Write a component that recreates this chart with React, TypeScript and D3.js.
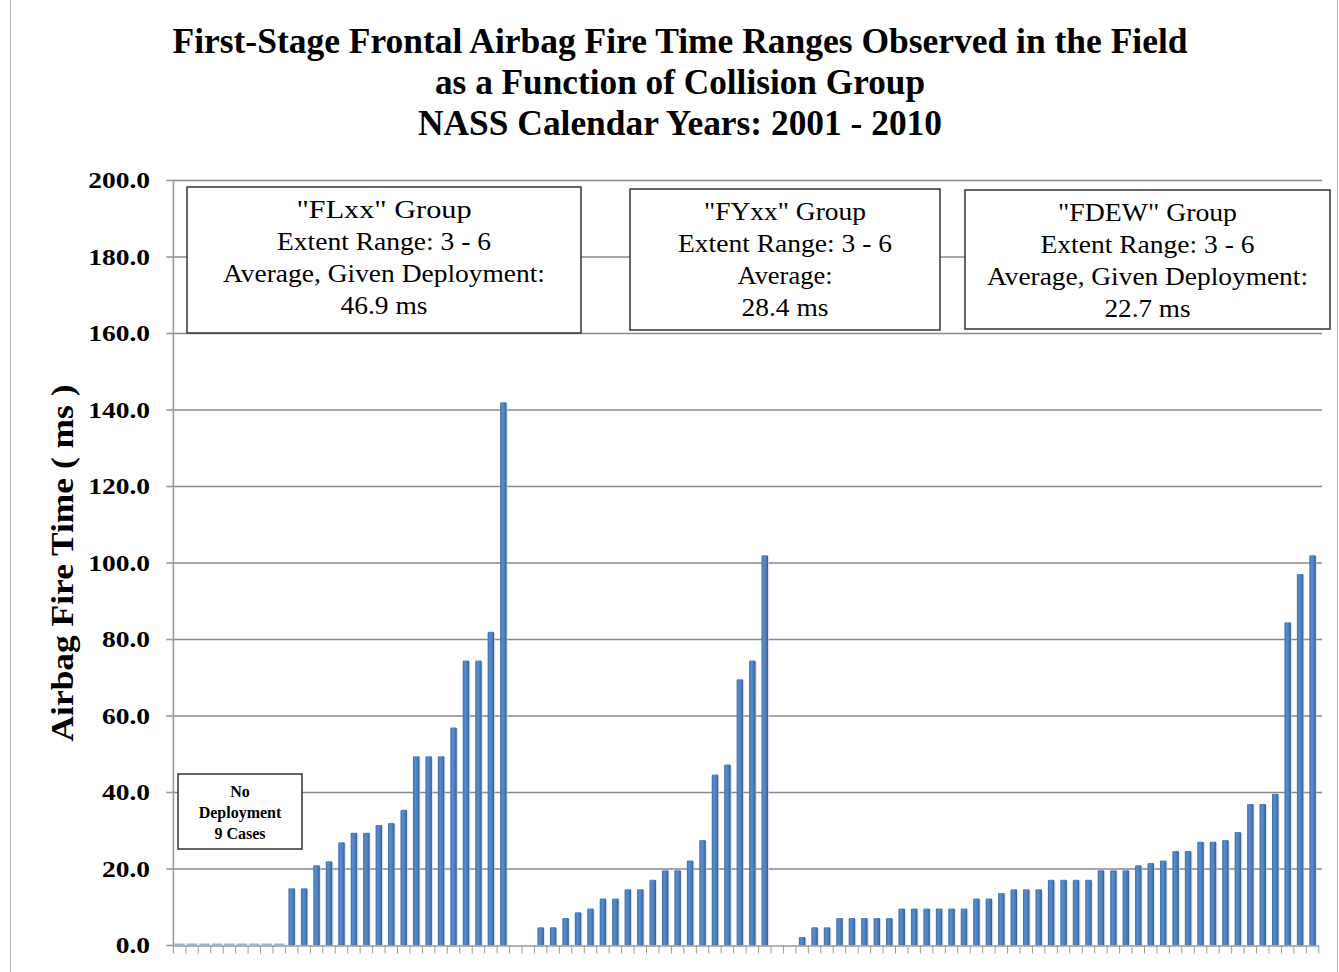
import React from "react";
import * as d3 from "d3";

const titleLines = [
  "First-Stage Frontal Airbag Fire Time Ranges Observed in the Field",
  "as a Function of Collision Group",
  "NASS Calendar Years: 2001 - 2010",
];
const yAxisLabel = "Airbag Fire Time ( ms )";
const yTicks = [0, 20, 40, 60, 80, 100, 120, 140, 160, 180, 200];

// FLxx group: 9 no-deployment cases (0 ms) followed by deployments
const flxxValues = [0, 0, 0, 0, 0, 0, 0, 0, 0, 15, 15, 21, 22, 27, 29.5, 29.5, 31.5, 32, 35.5, 49.5, 49.5, 49.5, 57, 74.5, 74.5, 82, 142];
const fyxxValues = [4.75, 4.75, 7.2, 8.7, 9.7, 12.3, 12.3, 14.7, 14.7, 17.2, 19.7, 19.7, 22.2, 27.6, 44.7, 47.3, 69.6, 74.5, 102];
const fdewValues = [2.2, 4.8, 4.8, 7.2, 7.2, 7.2, 7.2, 7.2, 9.7, 9.7, 9.7, 9.7, 9.7, 9.7, 12.3, 12.3, 13.7, 14.7, 14.7, 14.7, 17.2, 17.2, 17.2, 17.2, 19.7, 19.7, 19.7, 21, 21.6, 22.2, 24.7, 24.7, 27.1, 27.1, 27.6, 29.7, 37, 37, 39.7, 84.5, 97.1, 102];
const gapSize = 2;

const groupBoxes = [
  { lines: ['"FLxx" Group', "Extent Range: 3 - 6", "Average, Given Deployment:", "46.9 ms"] },
  { lines: ['"FYxx" Group', "Extent Range: 3 - 6", "Average:", "28.4 ms"] },
  { lines: ['"FDEW" Group', "Extent Range: 3 - 6", "Average, Given Deployment:", "22.7 ms"] },
];
const noDeployLines = ["No", "Deployment", "9 Cases"];

type Cat = { i: number; v: number | null };
const cats: Cat[] = [];
const pushAll = (arr: number[]) => arr.forEach((v) => cats.push({ i: cats.length, v }));
const pushGap = () => { for (let k = 0; k < gapSize; k++) cats.push({ i: cats.length, v: null }); };
pushAll(flxxValues); pushGap(); pushAll(fyxxValues); pushGap(); pushAll(fdewValues);

export default function App() {
  const W = 1339, H = 972;
  const x0 = 173.4, x1 = 1318.8, yTop = 180.5, yBot = 945.5;
  const x = d3.scaleBand<number>().domain(cats.map((c) => c.i)).range([x0, x1]).padding(0);
  const y = d3.scaleLinear().domain([0, 200]).range([yBot, yTop]);
  const bw = x.bandwidth() * 0.52;
  const serif = "'Liberation Serif', 'Times New Roman', Times, serif";

  const boxGeom = [
    { x: 187, y: 187, w: 394, h: 146, lw: [175, 214, 322, 87] },
    { x: 630, y: 189, w: 310, h: 141, lw: [162, 214, 95, 87] },
    { x: 965, y: 190, w: 365, h: 139, lw: [179, 214, 321, 86] },
  ];
  const titleGeom = [{ y: 53, w: 1015 }, { y: 94, w: 490 }, { y: 135, w: 524 }];
  const tickLen = (s: string) => {
    const digits = s.replace(".", "").length;
    return 27.5 * (digits * 0.5 + 0.25);
  };

  return (
    <svg width={W} height={H} style={{ position: "absolute", left: 0, top: 0, background: "#fff", fontFamily: serif }}>
      <defs>
        <linearGradient id="barGrad" x1="0" x2="1" y1="0" y2="0">
          <stop offset="0" stopColor="#3f6ea8" />
          <stop offset="0.35" stopColor="#5a8ccb" />
          <stop offset="0.7" stopColor="#4a7dbb" />
          <stop offset="1" stopColor="#2f5a8f" />
        </linearGradient>
      </defs>
      <rect x={0} y={0} width={W} height={H} fill="#fff" />
      <line x1={10.5} x2={10.5} y1={0} y2={H} stroke="#b8b8b8" strokeWidth={1} />
      <line x1={1337.5} x2={1337.5} y1={0} y2={H} stroke="#b8b8b8" strokeWidth={1} />

      {titleLines.map((t, k) => (
        <text key={k} x={680} y={titleGeom[k].y} textAnchor="middle" fontSize={36} fontWeight="bold"
          style={{ fontFamily: serif }}
          textLength={titleGeom[k].w} lengthAdjust="spacingAndGlyphs" fill="#000">{t}</text>
      ))}

      {/* gridlines */}
      {yTicks.filter((t) => t > 0).map((t) => (
        <line key={t} x1={x0} x2={1322} y1={y(t)} y2={y(t)} stroke="#8a8a8a" strokeWidth={1.6} />
      ))}
      {/* y axis */}
      <line x1={x0} x2={x0} y1={yTop} y2={yBot} stroke="#9a9a9a" strokeWidth={1.6} />
      {yTicks.map((t) => {
        const s = t.toFixed(1);
        return (
          <g key={t}>
            <line x1={x0 - 7} x2={x0} y1={y(t)} y2={y(t)} stroke="#9a9a9a" strokeWidth={1.6} />
            <text x={150} y={y(t) + 7.5} textAnchor="end" fontSize={23} fontWeight="bold"
              style={{ fontFamily: serif }}
              textLength={tickLen(s)} lengthAdjust="spacingAndGlyphs">{s}</text>
          </g>
        );
      })}
      <text transform={`translate(73,563) rotate(-90)`} textAnchor="middle" fontSize={32} fontWeight="bold"
        style={{ fontFamily: serif }}
        textLength={357} lengthAdjust="spacingAndGlyphs">{yAxisLabel}</text>

      {/* bars */}
      {cats.filter((c) => c.v !== null).map((c) => {
        const cx = (x(c.i) as number) + x.bandwidth() / 2;
        const v = c.v as number;
        if (v === 0) {
          return <rect key={c.i} x={cx - bw * 0.8} y={yBot - 2} width={bw * 1.6} height={1.5} fill="#9bb5d8" />;
        }
        const top = y(v);
        return (
          <g key={c.i}>
            <rect x={cx - bw / 2 + 1.2} y={top + 1} width={bw} height={yBot - top - 1} fill="#c9d3df" opacity={0.6} />
            <rect x={cx - bw / 2} y={top} width={bw} height={yBot - top} rx={1.2} fill="url(#barGrad)" />
          </g>
        );
      })}

      {/* x axis */}
      <line x1={x0} x2={x1} y1={yBot + 0.5} y2={yBot + 0.5} stroke="#9a9a9a" strokeWidth={1.6} />
      {d3.range(cats.length + 1).map((k) => {
        const xx = x0 + k * x.step();
        return <line key={k} x1={xx} x2={xx} y1={yBot} y2={yBot + 8} stroke="#9a9a9a" strokeWidth={1} />;
      })}

      {/* group boxes */}
      {groupBoxes.map((b, k) => {
        const g = boxGeom[k];
        const cx = g.x + g.w / 2;
        return (
          <g key={k}>
            <rect x={g.x} y={g.y} width={g.w} height={g.h} fill="#fff" stroke="#333" strokeWidth={1.5} />
            {b.lines.map((ln, j) => (
              <text key={j} x={cx} y={g.y + 31 + j * 32} textAnchor="middle" fontSize={25}
                style={{ fontFamily: serif }}
                textLength={g.lw[j]} lengthAdjust="spacingAndGlyphs">{ln}</text>
            ))}
          </g>
        );
      })}

      {/* no deployment box */}
      <rect x={178} y={774} width={124} height={75} fill="#fff" stroke="#333" strokeWidth={1.5} />
      {noDeployLines.map((ln, j) => (
        <text key={j} x={240} y={797 + j * 21} textAnchor="middle" fontSize={16} fontWeight="bold"
          style={{ fontFamily: serif }}>{ln}</text>
      ))}
    </svg>
  );
}
